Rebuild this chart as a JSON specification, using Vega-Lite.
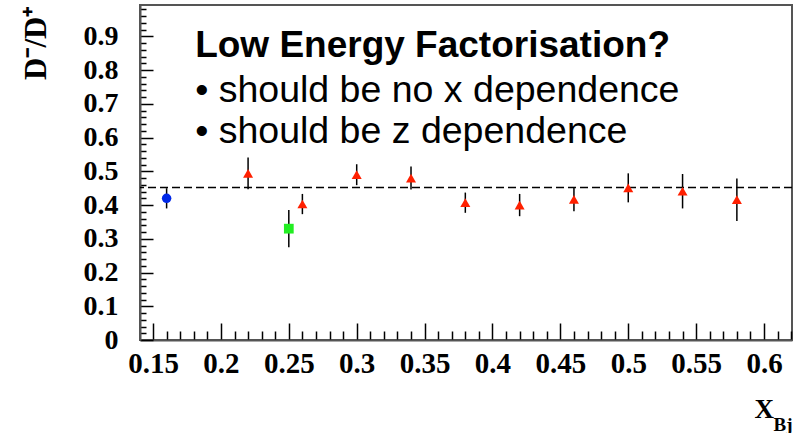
{
  "$schema": "https://vega.github.io/schema/vega-lite/v6.json",
  "width": 652,
  "height": 335,
  "autosize": "none",
  "padding": {"left": 140, "top": 5, "right": 11, "bottom": 93},
  "background": "white",
  "config": {"view": {"stroke": "#555555", "strokeWidth": 2}, "axis": {"grid": false}},
  "datasets": {
    "pts": [
      {"x": 0.16, "y": 0.42, "lo": 0.39, "hi": 0.45, "g": "blue"},
      {"x": 0.25, "y": 0.33, "lo": 0.275, "hi": 0.385, "g": "green"},
      {"x": 0.22, "y": 0.494, "lo": 0.447, "hi": 0.541, "g": "red"},
      {"x": 0.26, "y": 0.403, "lo": 0.373, "hi": 0.433, "g": "red"},
      {"x": 0.30, "y": 0.49, "lo": 0.459, "hi": 0.521, "g": "red"},
      {"x": 0.34, "y": 0.48, "lo": 0.446, "hi": 0.514, "g": "red"},
      {"x": 0.38, "y": 0.407, "lo": 0.377, "hi": 0.437, "g": "red"},
      {"x": 0.42, "y": 0.40, "lo": 0.367, "hi": 0.433, "g": "red"},
      {"x": 0.46, "y": 0.417, "lo": 0.382, "hi": 0.452, "g": "red"},
      {"x": 0.50, "y": 0.451, "lo": 0.408, "hi": 0.494, "g": "red"},
      {"x": 0.54, "y": 0.441, "lo": 0.39, "hi": 0.492, "g": "red"},
      {"x": 0.58, "y": 0.416, "lo": 0.353, "hi": 0.479, "g": "red"}
    ],
    "ref": [{"y": 0.452}],
    "head": [{"x": 0.181, "y": 0.838, "t": "Low Energy Factorisation?"}],
    "bul": [
      {"x": 0.181, "y": 0.706, "t": "• should be no x dependence"},
      {"x": 0.181, "y": 0.584, "t": "• should be z dependence"}
    ]
  },
  "layer": [
    {
      "data": {"name": "ref"},
      "mark": {"type": "rule", "strokeDash": [8, 4], "strokeWidth": 1.5, "color": "#000000"},
      "encoding": {
        "y": {"field": "y", "type": "quantitative", "scale": {"domain": [0, 0.993], "nice": false, "zero": false}, "axis": null}
      }
    },
    {
      "data": {"name": "pts"},
      "mark": {"type": "rule", "color": "#000000", "strokeWidth": 1.5},
      "encoding": {
        "x": {"field": "x", "type": "quantitative", "scale": {"domain": [0.1404, 0.6206], "nice": false, "zero": false},
          "axis": {"orient": "bottom", "values": [0.16,0.17,0.18,0.19,0.21,0.22,0.23,0.24,0.26,0.27,0.28,0.29,0.31,0.32,0.33,0.34,0.36,0.37,0.38,0.39,0.41,0.42,0.43,0.44,0.46,0.47,0.48,0.49,0.51,0.52,0.53,0.54,0.56,0.57,0.58,0.59,0.61,0.62],
            "labels": false, "domain": false, "tickSize": -9, "tickColor": "#000000", "tickWidth": 1.5,
            "title": "Bj", "titleFont": "Liberation Serif", "titleFontWeight": "bold", "titleFontSize": 19, "titleColor": "#000000",
            "titleX": 633, "titleY": 90, "titleAlign": "left", "titleBaseline": "alphabetic", "titleAngle": 0}},
        "y": {"field": "lo", "type": "quantitative", "scale": {"domain": [0, 0.993], "nice": false, "zero": false},
          "axis": {"orient": "left", "values": [0.02,0.04,0.06,0.08,0.12,0.14,0.16,0.18,0.22,0.24,0.26,0.28,0.32,0.34,0.36,0.38,0.42,0.44,0.46,0.48,0.52,0.54,0.56,0.58,0.62,0.64,0.66,0.68,0.72,0.74,0.76,0.78,0.82,0.84,0.86,0.88,0.92,0.94,0.96,0.98],
            "labels": false, "domain": false, "tickSize": -6, "tickColor": "#000000", "tickWidth": 1.5, "title": null}},
        "y2": {"field": "hi"}
      }
    },
    {
      "data": {"name": "pts"},
      "mark": {"type": "point", "filled": true, "opacity": 1, "strokeWidth": 0},
      "encoding": {
        "x": {"field": "x", "type": "quantitative", "scale": {"domain": [0.1404, 0.6206], "nice": false, "zero": false},
          "axis": {"orient": "bottom", "values": [0.15,0.2,0.25,0.3,0.35,0.4,0.45,0.5,0.55,0.6], "format": "~g",
            "tickSize": -17, "tickColor": "#000000", "tickWidth": 1.5, "domainColor": "#555555", "domainWidth": 2,
            "labelFont": "Liberation Serif", "labelFontWeight": "bold", "labelFontSize": 29, "labelColor": "#000000",
            "labelBaseline": "alphabetic", "labelPadding": 49, "labelFlush": false, "labelOverlap": false,
            "title": "X", "titleFont": "Liberation Serif", "titleFontWeight": "bold", "titleFontSize": 27, "titleColor": "#000000",
            "titleX": 614, "titleY": 77, "titleAlign": "left", "titleBaseline": "alphabetic", "titleAngle": 0}},
        "y": {"field": "y", "type": "quantitative", "scale": {"domain": [0, 0.993], "nice": false, "zero": false},
          "axis": {"orient": "left", "values": [0,0.1,0.2,0.3,0.4,0.5,0.6,0.7,0.8,0.9], "format": "~g",
            "tickSize": -13, "tickColor": "#000000", "tickWidth": 1.5, "domainColor": "#555555", "domainWidth": 2,
            "labelFont": "Liberation Serif", "labelFontWeight": "bold", "labelFontSize": 28, "labelColor": "#000000",
            "labelPadding": 35, "labelFlush": false, "labelOverlap": false,
            "title": "D⁻/D⁺", "titleFont": "Liberation Serif", "titleFontWeight": "bold", "titleFontSize": 31, "titleColor": "#000000",
            "titleAngle": -90, "titleAlign": "right", "titleBaseline": "alphabetic", "titleX": -95, "titleY": 1}},
        "color": {"field": "g", "type": "nominal", "scale": {"domain": ["blue", "green", "red"], "range": ["#0028e8", "#22ee22", "#ff2000"]}, "legend": null},
        "shape": {"field": "g", "type": "nominal", "scale": {"domain": ["blue", "green", "red"], "range": ["circle", "square", "triangle-up"]}, "legend": null},
        "size": {"field": "g", "type": "nominal", "scale": {"domain": ["blue", "green", "red"], "range": [90, 100, 150]}, "legend": null}
      }
    },
    {
      "data": {"name": "head"},
      "mark": {"type": "text", "font": "Liberation Sans", "fontWeight": "bold", "fontSize": 37, "align": "left", "baseline": "alphabetic", "color": "#000000"},
      "encoding": {
        "x": {"field": "x", "type": "quantitative", "scale": {"domain": [0.1404, 0.6206], "nice": false, "zero": false}, "axis": null},
        "y": {"field": "y", "type": "quantitative", "scale": {"domain": [0, 0.993], "nice": false, "zero": false}, "axis": null},
        "text": {"field": "t"}
      }
    },
    {
      "data": {"name": "bul"},
      "mark": {"type": "text", "font": "Liberation Sans", "fontSize": 37.5, "align": "left", "baseline": "alphabetic", "color": "#000000"},
      "encoding": {
        "x": {"field": "x", "type": "quantitative", "scale": {"domain": [0.1404, 0.6206], "nice": false, "zero": false}, "axis": null},
        "y": {"field": "y", "type": "quantitative", "scale": {"domain": [0, 0.993], "nice": false, "zero": false}, "axis": null},
        "text": {"field": "t"}
      }
    }
  ],
  "resolve": {"axis": {"x": "independent", "y": "independent"}}
}
